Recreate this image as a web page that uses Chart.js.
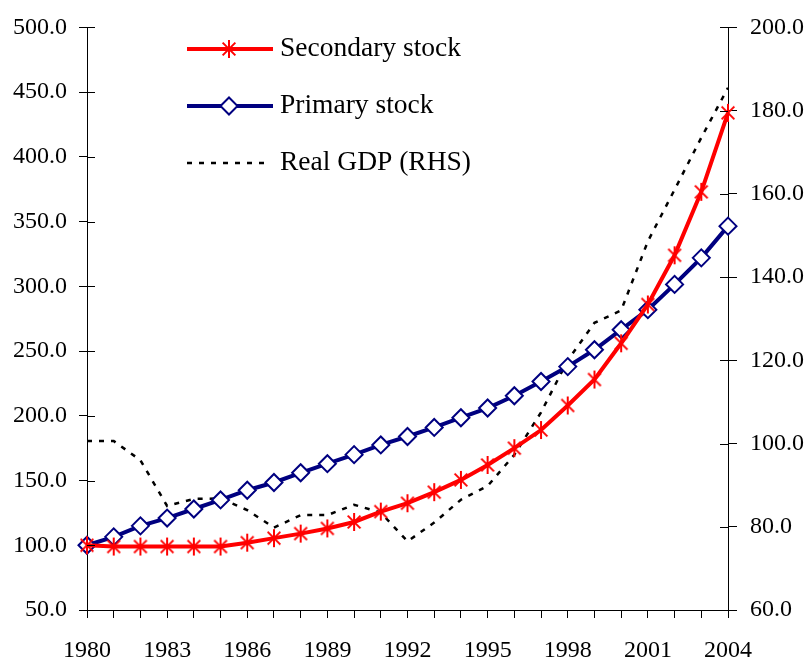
<!DOCTYPE html>
<html>
<head>
<meta charset="utf-8">
<script src="https://cdn.jsdelivr.net/npm/chart.js@4/dist/chart.umd.min.js"></script>
<style>
  html, body { margin: 0; padding: 0; background: #fff; }
  #wrap { position: relative; width: 808px; height: 666px; }
</style>
</head>
<body>
<div id="wrap"><canvas id="c" width="808" height="666"></canvas></div>
<script>
const years = ['1980','1981','1982','1983','1984','1985','1986','1987','1988','1989','1990','1991','1992','1993','1994','1995','1996','1997','1998','1999','2000','2001','2002','2003','2004'];
const secondaryStock = [100, 99, 99, 99, 99, 99, 102, 105.5, 109, 113, 118, 126, 132.5, 141, 150.5, 162, 175, 189, 208, 228, 256, 286, 324, 373, 434];
const primaryStock = [100, 106.5, 115, 121, 128, 135, 142.5, 148.5, 156, 163, 170, 177.5, 184, 191, 198.5, 206, 215.5, 226.5, 238, 251, 266.5, 282, 301.5, 322, 346.5];
const realGDP = [100.6, 100.6, 96, 85, 86.7, 86.8, 84, 79.8, 82.8, 82.8, 85.3, 83.4, 76.5, 81, 86.5, 89.8, 97.3, 107.5, 120, 129, 132, 148.6, 161, 173.5, 185.5];
const seriesNames = ['Secondary stock', 'Primary stock', 'Real GDP (RHS)'];
const leftTicks = {min: 50, max: 500, step: 50};
const rightTicks = {min: 60, max: 200, step: 20};

const FONT = "'Liberation Serif', 'Times New Roman', serif";

// asterisk marker
function makeAsterisk(r, color, lw) {
  const s = Math.ceil(2 * r + lw + 2);
  const cv = document.createElement('canvas');
  cv.width = s; cv.height = s;
  const g = cv.getContext('2d');
  const c = s / 2;
  g.strokeStyle = color; g.lineWidth = lw; g.lineCap = 'butt';
  g.beginPath();
  g.moveTo(c, c - r); g.lineTo(c, c + r);
  const d = r * Math.cos(Math.PI / 4);
  g.moveTo(c - d, c - d); g.lineTo(c + d, c + d);
  g.moveTo(c - d, c + d); g.lineTo(c + d, c - d);
  g.stroke();
  return cv;
}
const asterisk = makeAsterisk(9, '#FF0000', 2);

const insideTicks = {
  id: 'insideTicks',
  afterDatasetsDraw(chart) {
    const ctx = chart.ctx;
    ctx.save();
    ctx.strokeStyle = '#000';
    ctx.lineWidth = 1;
    ['y', 'y2'].forEach(id => {
      const sc = chart.scales[id];
      const x = id === 'y' ? sc.right : sc.left;
      const dir = id === 'y' ? 1 : -1;
      sc.ticks.forEach(t => {
        const py = Math.round(sc.getPixelForValue(t.value)) + 0.5;
        ctx.beginPath();
        ctx.moveTo(x, py);
        ctx.lineTo(x + dir * 8, py);
        ctx.stroke();
      });
    });
    ctx.restore();
  }
};

const customLegend = {
  id: 'customLegend',
  afterDraw(chart) {
    const ctx = chart.ctx;
    const x0 = 187, x1 = 273, tx = 280;
    const rows = [49, 106, 163];
    ctx.save();
    chart.data.datasets.forEach((ds, i) => {
      const y = rows[i];
      ctx.beginPath();
      ctx.strokeStyle = ds.borderColor;
      ctx.lineWidth = ds.borderWidth;
      ctx.setLineDash(ds.borderDash || []);
      ctx.moveTo(x0, y);
      ctx.lineTo(i === 2 ? 267 : x1, y);
      ctx.stroke();
      ctx.setLineDash([]);
      if (i === 0) {
        ctx.drawImage(asterisk, 229 - asterisk.width / 2, y - asterisk.height / 2);
      } else if (i === 1) {
        ctx.fillStyle = '#FFFFFF';
        ctx.strokeStyle = '#000080';
        ctx.lineWidth = 2;
        Chart.helpers.drawPoint(ctx, {pointStyle: 'rectRot', radius: 8.5, borderWidth: 2, rotation: 0}, 229, y);
      }
      ctx.fillStyle = '#000';
      ctx.font = '27.5px ' + FONT;
      ctx.textBaseline = 'middle';
      ctx.textAlign = 'left';
      ctx.fillText(ds.label, tx, y);
    });
    ctx.restore();
  }
};

new Chart(document.getElementById('c'), {
  type: 'line',
  data: {
    labels: years,
    datasets: [
      {
        label: seriesNames[0],
        data: secondaryStock,
        yAxisID: 'y',
        borderColor: '#FF0000',
        borderWidth: 4,
        pointStyle: asterisk,
        pointRadius: 9,
        tension: 0
      },
      {
        label: seriesNames[1],
        data: primaryStock,
        yAxisID: 'y',
        borderColor: '#000080',
        backgroundColor: '#FFFFFF',
        borderWidth: 4,
        pointStyle: 'rectRot',
        pointRadius: 8.5,
        pointBorderWidth: 2,
        pointBorderColor: '#000080',
        pointBackgroundColor: '#FFFFFF',
        tension: 0
      },
      {
        label: seriesNames[2],
        data: realGDP,
        yAxisID: 'y2',
        borderColor: '#000000',
        borderWidth: 2.5,
        borderDash: [5, 7],
        pointRadius: 0,
        tension: 0
      }
    ]
  },
  options: {
    responsive: false,
    animation: false,
    events: [],
    layout: {padding: {top: 20, left: 0, right: 0, bottom: 0}},
    plugins: {legend: {display: false}, tooltip: {enabled: false}},
    scales: {
      x: {
        type: 'category',
        offset: false,
        grid: {drawOnChartArea: false, drawTicks: true, tickLength: 8, color: '#000', lineWidth: 1},
        border: {color: '#000', width: 1},
        ticks: {
          autoSkip: false, maxRotation: 0, minRotation: 0, padding: 18,
          color: '#000', font: {family: FONT, size: 24},
          callback: function(v, i) { return i % 3 === 0 ? years[i] : ''; }
        },
        afterFit(s) { s.height = 56; }
      },
      y: {
        position: 'left',
        min: leftTicks.min, max: leftTicks.max,
        grid: {drawOnChartArea: false, drawTicks: true, tickLength: 8, color: '#000', lineWidth: 1},
        border: {color: '#000', width: 1},
        ticks: {
          stepSize: leftTicks.step, padding: 12, color: '#000',
          font: {family: FONT, size: 24},
          callback: v => Number(v).toFixed(1)
        },
        afterFit(s) { s.width = 87; }
      },
      y2: {
        position: 'right',
        min: rightTicks.min, max: rightTicks.max,
        grid: {drawOnChartArea: false, drawTicks: true, tickLength: 9, color: '#000', lineWidth: 1},
        border: {color: '#000', width: 1},
        ticks: {
          stepSize: rightTicks.step, padding: 13, color: '#000',
          font: {family: FONT, size: 24},
          callback: v => Number(v).toFixed(1)
        },
        afterFit(s) { s.width = 80; }
      }
    }
  },
  plugins: [insideTicks, customLegend]
});
</script>
</body>
</html>
